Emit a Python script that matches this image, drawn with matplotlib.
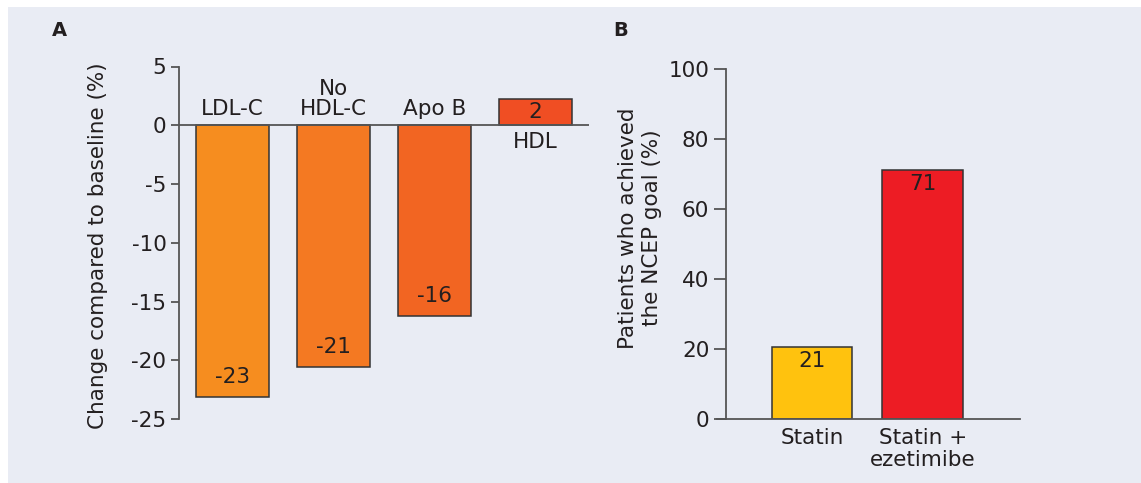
import matplotlib
matplotlib.use("Agg")
import matplotlib.pyplot as plt
from matplotlib.patches import Rectangle

# panel A: change vs baseline
a_labels = ["LDL-C", "No\nHDL-C", "Apo B", "HDL"]
a_heights = [-23.1, -20.6, -16.2, 2.2]
a_values = ["-23", "-21", "-16", "2"]
a_colors = ["#F68D1F", "#F47922", "#F26522", "#F04E23"]
a_ticks = [5, 0, -5, -10, -15, -20, -25]

# panel B: patients reaching NCEP goal
b_labels = ["Statin", "Statin +\nezetimibe"]
b_heights = [20.6, 71.1]
b_values = ["21", "71"]
b_colors = ["#FFC20E", "#ED1C24"]
b_ticks = [0, 20, 40, 60, 80, 100]

W, H = 1141, 483
BG = "#E9ECF4"
TXT = "#231F20"
AX = "#555555"
FS = 15.5

plt.rcParams["font.family"] = ["DejaVu Sans"]

fig = plt.figure(figsize=(W / 100, H / 100), dpi=100)
fig.patch.set_facecolor("white")
fig.patches.append(Rectangle((8 / W, 0), 1, 1 - 7 / H, transform=fig.transFigure,
                             facecolor=BG, edgecolor="none", zorder=-10))


def px_axes(x0, y0, x1, y1):
    # pixel box (top-left origin) -> figure axes
    return fig.add_axes([x0 / W, 1 - y1 / H, (x1 - x0) / W, (y1 - y0) / H])


def style(ax):
    ax.set_facecolor("none")
    for s in ["top", "right", "bottom"]:
        ax.spines[s].set_visible(False)
    ax.spines["left"].set_color(AX)
    ax.spines["left"].set_linewidth(1.3)
    ax.tick_params(axis="y", direction="out", length=6, width=1.3, color=AX,
                   labelsize=FS, labelcolor=TXT, pad=3)
    ax.tick_params(axis="x", length=0, labelbottom=False)


# ---- panel A ----
axA = px_axes(179, 66.5, 589, 419)
style(axA)
xa = range(len(a_heights))
axA.bar(xa, a_heights, width=0.725, color=a_colors, edgecolor="#333333",
        linewidth=1.1, zorder=2)
axA.axhline(0, color=AX, linewidth=1.3, zorder=3)
axA.set_xlim(-0.53, 3.53)
axA.set_ylim(-25, 5)
axA.set_yticks(a_ticks)
axA.set_yticklabels([str(t) for t in a_ticks])
for i, (h, v, lab) in enumerate(zip(a_heights, a_values, a_labels)):
    if h < 0:
        axA.text(i, h + 1.7, v, ha="center", va="center", fontsize=FS, color=TXT, zorder=4)
        axA.text(i, 0.5, lab, ha="center", va="bottom", fontsize=FS, color=TXT,
                 linespacing=1.0)
    else:
        axA.text(i, h / 2 + 0.05, v, ha="center", va="center", fontsize=FS, color=TXT, zorder=4)
        axA.text(i, -0.6, lab, ha="center", va="top", fontsize=FS, color=TXT)

fig.text(98 / W, 1 - 246 / H, "Change compared to baseline (%)", rotation=90,
         ha="center", va="center", fontsize=FS, color=TXT)
fig.text(59 / W, 1 - 31 / H, "A", ha="center", va="center", fontsize=14,
         fontweight="bold", color=TXT)

# ---- panel B ----
axB = px_axes(726, 69, 1020, 419)
style(axB)
xb = range(len(b_heights))
axB.bar(xb, b_heights, width=0.728, color=b_colors, edgecolor="#333333",
        linewidth=1.1, zorder=2)
axB.plot([-0.86, 1.877], [0, 0], color=AX, linewidth=1.3, zorder=3, clip_on=False)
axB.set_xlim(-0.776, 1.877)
axB.set_ylim(0, 100)
axB.set_yticks(b_ticks)
axB.set_yticklabels([str(t) for t in b_ticks])
axB.tick_params(axis="y", length=9)
for i, (h, v, lab) in enumerate(zip(b_heights, b_values, b_labels)):
    axB.text(i, h - 4.0, v, ha="center", va="center", fontsize=FS, color=TXT, zorder=4)
    axB.text(i, -2.6, lab, ha="center", va="top", fontsize=FS, color=TXT,
             linespacing=1.15)

fig.text(640 / W, 1 - 228 / H, "Patients who achieved\nthe NCEP goal (%)", rotation=90,
         ha="center", va="center", fontsize=FS, color=TXT, linespacing=1.2)
fig.text(621 / W, 1 - 31 / H, "B", ha="center", va="center", fontsize=14,
         fontweight="bold", color=TXT)

fig.savefig("out.png", dpi=100, facecolor=fig.get_facecolor())
